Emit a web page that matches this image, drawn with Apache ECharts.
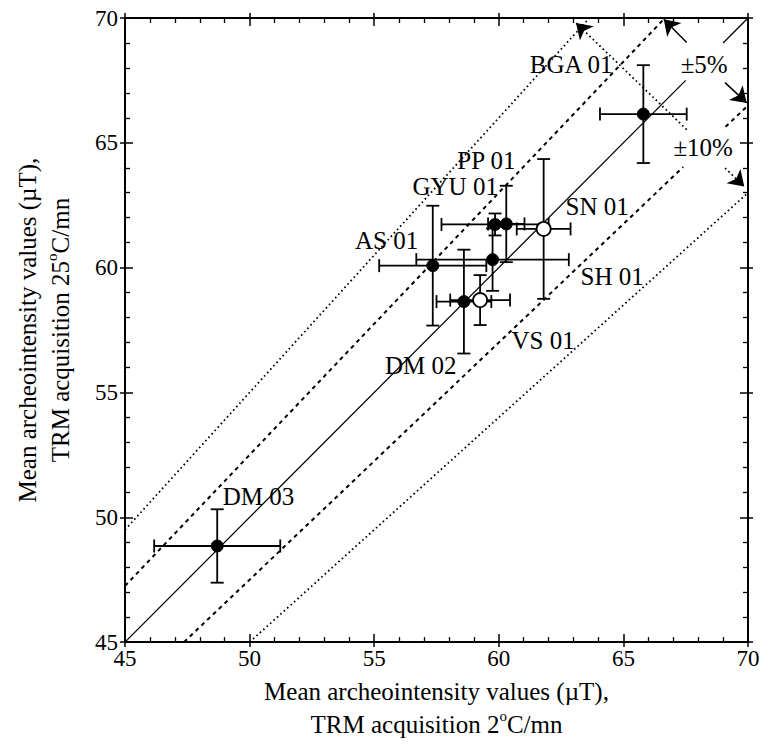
<!DOCTYPE html>
<html>
<head>
<meta charset="utf-8">
<script src="https://cdn.jsdelivr.net/npm/echarts@6/dist/echarts.min.js"></script>
<style>
  html, body { margin: 0; padding: 0; background: #fff; }
  #chart { width: 772px; height: 746px; }
</style>
</head>
<body>
<div id="chart"></div>
<script>
// sites, mean values and half-widths of the error bars (µT)
var names   = ['BGA 01', 'PP 01', 'GYU 01', 'SN 01', 'AS 01', 'SH 01', 'DM 02', 'VS 01', 'DM 03'];
var xMean   = [65.8, 60.3, 59.85, 61.8, 57.35, 59.75, 58.6, 59.25, 48.7];
var yMean   = [66.15, 61.75, 61.73, 61.55, 60.08, 60.32, 58.64, 58.7, 48.85];
var xErr    = [1.74, 0.73, 2.15, 1.08, 2.15, 3.06, 1.1, 1.2, 2.53];
var yErr    = [1.96, 1.53, 0.44, 2.8, 2.4, 1.25, 2.08, 1.0, 1.47];
var isOpen  = [false, false, false, true, false, false, false, true, false];

// where each site name is written (text centre)
var labelX  = [62.9, 59.5, 58.25, 63.95, 55.5, 64.55, 56.87, 61.78, 50.36];
var labelY  = [68.15, 64.3, 63.25, 62.44, 61.09, 59.66, 56.07, 57.07, 50.82];

// reference lines y = k x and the spans left blank behind the % labels
var ratios    = [1, 1.05, 0.95, 1.1, 0.9];
var gapStart  = [67.5, null, 67.4, null, null];
var gapEnd    = [69.0, null, 69.1, null, null];

// annotation arrows [from, to]
var arrows5  = [[[67.54, 69.02], [66.62, 69.95]], [[69.08, 67.41], [69.95, 66.6]]];
var arrows10 = [[[67.54, 65.53], [63.1, 69.8]], [[69.08, 63.99], [69.85, 63.25]]];
var pctText  = ['±5%', '±10%'];
var pctX     = [68.24, 68.2];
var pctY     = [68.12, 64.8];

var axMin = 45, axMax = 70;

var FONT = 'Liberation Serif';

function segmentsFor(i) {
  var k = ratios[i];
  var x0 = Math.max(axMin, axMin / k), x1 = Math.min(axMax, axMax / k);
  var segs = [];
  if (gapStart[i] != null) {
    segs.push({coords: [[x0, k * x0], [gapStart[i], k * gapStart[i]]]});
    segs.push({coords: [[gapEnd[i], k * gapEnd[i]], [x1, k * x1]]});
  } else {
    segs.push({coords: [[x0, k * x0], [x1, k * x1]]});
  }
  return segs;
}

var refStyles = [
  {type: 'solid', width: 1.3},
  {type: [4, 4], width: 2},
  {type: [4, 4], width: 2},
  {type: [1.6, 3], width: 1.8},
  {type: [1.6, 3], width: 1.8}
];

var errData = [], filled = [], open = [], labels = [];
for (var i = 0; i < names.length; i++) {
  errData.push([xMean[i], yMean[i], xErr[i], yErr[i]]);
  if (isOpen[i]) open.push([xMean[i], yMean[i]]);
  else filled.push([xMean[i], yMean[i]]);
  labels.push([labelX[i], labelY[i], names[i]]);
}
for (var j = 0; j < pctText.length; j++) {
  labels.push([pctX[j], pctY[j], pctText[j]]);
}

function renderErr(params, api) {
  var x = api.value(0), y = api.value(1), xe = api.value(2), ye = api.value(3);
  var l = api.coord([x - xe, y]), r = api.coord([x + xe, y]);
  var t = api.coord([x, y + ye]), b = api.coord([x, y - ye]);
  var c = 6.5;
  var st = {stroke: '#000', lineWidth: 1.8};
  function ln(x1, y1, x2, y2) {
    return {type: 'line', shape: {x1: x1, y1: y1, x2: x2, y2: y2}, style: st};
  }
  return {
    type: 'group',
    children: [
      ln(l[0], l[1], r[0], r[1]),
      ln(l[0], l[1] - c, l[0], l[1] + c),
      ln(r[0], r[1] - c, r[0], r[1] + c),
      ln(t[0], t[1], b[0], b[1]),
      ln(t[0] - c, t[1], t[0] + c, t[1]),
      ln(b[0] - c, b[1], b[0] + c, b[1])
    ]
  };
}

function valAxis(extra) {
  var base = {
    type: 'value', min: axMin, max: axMax, interval: 5,
    splitLine: {show: false},
    axisLine: {show: true, lineStyle: {color: '#000', width: 2}},
    axisTick: {show: true, inside: true, length: 8, lineStyle: {color: '#000', width: 1.5}},
    minorTick: {show: true, splitNumber: 5, length: 5, lineStyle: {color: '#000', width: 1.3}},
    axisLabel: {show: false}
  };
  return Object.assign(base, extra);
}
function outAxis(pos) {
  return {
    type: 'value', min: axMin, max: axMax, interval: 5, position: pos,
    splitLine: {show: false},
    axisLine: {show: false},
    axisTick: {show: true, inside: false, length: 5, lineStyle: {color: '#000', width: 1.5}},
    axisLabel: {show: false}
  };
}

var tickLabel = {show: true, color: '#000', fontFamily: FONT, fontSize: 23, showMinLabel: true, showMaxLabel: true};
var titleStyle = {
  color: '#000', fontFamily: FONT, fontSize: 25, lineHeight: 33, align: 'center',
  rich: {
    n: {fontFamily: FONT, fontSize: 25, color: '#000', lineHeight: 33},
    sup: {fontFamily: FONT, fontSize: 15, color: '#000', verticalAlign: 'top', lineHeight: 33, padding: [0, 0, 8, 0]}
  }
};

var chart = echarts.init(document.getElementById('chart'), null, {renderer: 'svg'});

var series = [];
for (var s = 0; s < ratios.length; s++) {
  series.push({
    type: 'lines', coordinateSystem: 'cartesian2d', z: 1, silent: true,
    symbol: 'none',
    lineStyle: {color: '#000', width: refStyles[s].width, type: refStyles[s].type, opacity: 1},
    data: segmentsFor(s)
  });
}
series.push({
  type: 'lines', coordinateSystem: 'cartesian2d', z: 2, silent: true,
  symbol: ['none', 'arrow'], symbolSize: 15,
  lineStyle: {color: '#000', width: 1.5, type: 'solid', opacity: 1},
  data: arrows5.map(function (a) { return {coords: a}; })
});
series.push({
  type: 'lines', coordinateSystem: 'cartesian2d', z: 2, silent: true,
  symbol: ['none', 'arrow'], symbolSize: 15,
  lineStyle: {color: '#000', width: 1.8, type: [1.6, 3], opacity: 1},
  data: arrows10.map(function (a) { return {coords: a}; })
});
series.push({
  type: 'custom', z: 3, silent: true,
  renderItem: renderErr,
  data: errData
});
series.push({
  type: 'scatter', z: 4, silent: true, symbol: 'circle', symbolSize: 12,
  itemStyle: {color: '#000', borderColor: '#000', borderWidth: 1, opacity: 1},
  data: filled
});
series.push({
  type: 'scatter', z: 4, silent: true, symbol: 'circle', symbolSize: 14,
  itemStyle: {color: '#fff', borderColor: '#000', borderWidth: 1.8, opacity: 1},
  data: open
});
series.push({
  type: 'scatter', z: 5, silent: true, symbol: 'circle', symbolSize: 0,
  itemStyle: {color: '#000', opacity: 1},
  label: {
    show: true, position: 'inside', color: '#000', fontFamily: FONT, fontSize: 25,
    textBorderWidth: 0, opacity: 1,
    formatter: function (p) { return p.data[2]; }
  },
  data: labels
});

chart.setOption({
  animation: false,
  backgroundColor: '#fff',
  grid: {left: 125, right: 24, top: 18, bottom: 85, containLabel: false},
  xAxis: [
    valAxis({
      position: 'bottom',
      axisLabel: Object.assign({margin: 5}, tickLabel),
      name: '{n|Mean archeointensity values (µT),}\n{n|TRM acquisition 2}{sup|o}{n|C/mn}',
      nameLocation: 'middle', nameGap: 28,
      nameTextStyle: titleStyle
    }),
    valAxis({position: 'top'}),
    outAxis('bottom'),
    outAxis('top')
  ],
  yAxis: [
    valAxis({
      position: 'left',
      axisLabel: Object.assign({margin: 7}, tickLabel),
      name: '{n|Mean archeointensity values (µT),}\n{n|TRM acquisition 25}{sup|o}{n|C/mn}',
      nameLocation: 'middle', nameGap: 48, nameRotate: 90,
      nameTextStyle: titleStyle
    }),
    valAxis({position: 'right'}),
    outAxis('left'),
    outAxis('right')
  ],
  series: series
});
</script>
</body>
</html>
